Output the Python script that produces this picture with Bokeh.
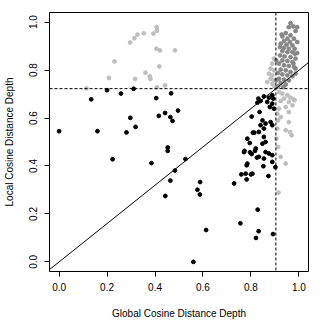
from bokeh.plotting import figure
from bokeh.models import Range1d, FixedTicker, PrintfTickFormatter, Span, Slope
from bokeh.embed import file_html
from bokeh.resources import INLINE

x_cut = 0.904
y_cut = 0.7225
ticks = [0.0, 0.2, 0.4, 0.6, 0.8, 1.0]

black_x = [0.000, 0.134, 0.160, 0.200, 0.258, 0.311, 0.405, 0.297, 0.281, 0.319, 0.416, 0.442,
           0.223, 0.385, 0.467, 0.496, 0.464, 0.473, 0.453, 0.453, 0.527, 0.483, 0.464, 0.588,
           0.443, 0.577, 0.587, 0.730, 0.760, 0.782, 0.800, 0.852, 0.873, 0.902, 0.828, 0.756,
           0.613, 0.832, 0.821, 0.892, 0.560, 0.782, 0.773, 0.796, 0.803, 0.825, 0.817, 0.785,
           0.795, 0.808, 0.814, 0.803, 0.836, 0.831, 0.854, 0.875, 0.889, 0.893, 0.840, 0.868,
           0.889, 0.879, 0.896, 0.848, 0.861, 0.840, 0.854, 0.882, 0.889, 0.833, 0.854, 0.861,
           0.848, 0.820, 0.861, 0.875, 0.833, 0.854, 0.889, 0.785, 0.889, 0.771, 0.806, 0.778,
           0.827]
black_y = [0.545, 0.678, 0.545, 0.716, 0.702, 0.722, 0.683, 0.601, 0.540, 0.563, 0.609, 0.621,
           0.428, 0.412, 0.703, 0.631, 0.604, 0.588, 0.477, 0.463, 0.429, 0.381, 0.339, 0.333,
           0.275, 0.301, 0.281, 0.327, 0.365, 0.344, 0.365, 0.399, 0.358, 0.395, 0.218, 0.161,
           0.133, 0.128, 0.100, 0.116, 0.000, 0.403, 0.463, 0.457, 0.450, 0.435, 0.463, 0.514,
           0.496, 0.539, 0.539, 0.606, 0.625, 0.681, 0.690, 0.685, 0.695, 0.681, 0.671, 0.667,
           0.660, 0.646, 0.639, 0.590, 0.577, 0.570, 0.556, 0.583, 0.570, 0.542, 0.521, 0.500,
           0.493, 0.473, 0.458, 0.452, 0.438, 0.431, 0.445, 0.410, 0.417, 0.458, 0.368, 0.368,
           0.664]

light_x = [0.114, 0.208, 0.231, 0.296, 0.314, 0.327, 0.353, 0.393, 0.407, 0.408, 0.406, 0.421,
           0.483, 0.418, 0.360, 0.378, 0.381, 0.317, 0.408, 0.442,
           0.896, 0.889, 0.882, 0.896, 0.875, 0.889, 0.882, 0.896, 0.868, 0.889, 0.898,
           0.917, 0.931, 0.952, 0.965, 0.979, 0.938, 0.958, 0.924, 0.973, 0.945, 0.917, 0.910,
           0.924, 0.958, 0.913, 0.958, 0.910, 0.945, 0.963, 0.970, 0.906, 0.913, 0.924, 0.945,
           0.915, 0.982]
light_y = [0.724, 0.767, 0.836, 0.915, 0.933, 0.948, 0.953, 0.952, 0.979, 0.964, 0.889, 0.882,
           0.882, 0.815, 0.789, 0.774, 0.763, 0.763, 0.728, 0.736,
           0.848, 0.827, 0.806, 0.799, 0.785, 0.778, 0.764, 0.757, 0.750, 0.743, 0.732,
           0.708, 0.702, 0.695, 0.685, 0.677, 0.681, 0.667, 0.671, 0.653, 0.646, 0.639, 0.618,
           0.604, 0.625, 0.590, 0.583, 0.556, 0.549, 0.542, 0.528, 0.514, 0.479, 0.438, 0.410,
           0.289, 0.674]

dark_x = [0.965, 0.977, 0.958, 0.986, 0.945, 0.965, 0.931, 0.952, 0.979, 0.938, 0.963, 0.993,
          0.924, 0.949, 0.973, 0.938, 0.958, 0.982, 0.931, 0.952, 0.973, 0.993, 0.921, 0.940,
          0.965, 0.986, 0.931, 0.952, 0.973, 0.917, 0.938, 0.958, 0.979, 0.924, 0.945, 0.965,
          0.913, 0.931, 0.952, 0.973, 0.917, 0.938, 0.958, 0.924, 0.945, 0.913, 0.935, 0.986,
          0.986, 0.906, 0.993, 0.928, 0.921, 0.983, 0.906, 0.977]
dark_y = [0.996, 0.982, 0.979, 0.963, 0.954, 0.945, 0.940, 0.931, 0.931, 0.921, 0.917, 0.917,
          0.910, 0.906, 0.903, 0.893, 0.889, 0.889, 0.879, 0.875, 0.875, 0.871, 0.861, 0.857,
          0.854, 0.848, 0.840, 0.838, 0.833, 0.827, 0.820, 0.817, 0.813, 0.802, 0.799, 0.792,
          0.788, 0.782, 0.778, 0.774, 0.764, 0.760, 0.757, 0.746, 0.740, 0.732, 0.729, 0.806,
          0.785, 0.757, 0.979, 0.948, 0.896, 0.868, 0.840, 0.827]

FONT = "Liberation Sans"

p = figure(width=332, height=332, output_backend="svg", toolbar_location=None,
           x_range=Range1d(-0.04, 1.04), y_range=Range1d(-0.04, 1.04),
           min_border_left=48, min_border_right=24, min_border_top=12, min_border_bottom=61)
p.grid.visible = False
p.outline_line_color = "black"
p.outline_line_width = 1
p.background_fill_color = "white"
p.border_fill_color = "white"

p.xaxis.axis_label = "Global Cosine Distance Depth"
p.yaxis.axis_label = "Local Cosine Distance Depth"
for ax in (p.xaxis[0], p.yaxis[0]):
    ax.ticker = FixedTicker(ticks=ticks)
    ax.formatter = PrintfTickFormatter(format="%.1f")
    ax.axis_line_color = None
    ax.major_tick_in = 0
    ax.major_tick_out = 5
    ax.major_tick_line_color = "black"
    ax.minor_tick_line_color = None
    ax.major_label_text_font = FONT
    ax.major_label_text_font_size = "10px"
    ax.major_label_text_color = "black"
    ax.axis_label_text_font = FONT
    ax.axis_label_text_font_size = "10px"
    ax.axis_label_text_font_style = "normal"
    ax.axis_label_text_color = "black"
p.yaxis.major_label_orientation = "vertical"
p.xaxis.major_label_standoff = 6
p.xaxis.axis_label_standoff = 14
p.yaxis.major_label_standoff = 7
p.yaxis.axis_label_standoff = 12

p.scatter(light_x, light_y, size=3.8, color="#BEBEBE")
p.scatter(dark_x, dark_y, size=3.8, color="#878787")
p.scatter(black_x, black_y, size=3.8, color="black")

p.add_layout(Span(location=y_cut, dimension="width", line_color="black", line_dash="3 2", line_width=1))
p.add_layout(Span(location=x_cut, dimension="height", line_color="black", line_dash="3 2", line_width=1))
p.add_layout(Slope(gradient=y_cut / x_cut, y_intercept=0, line_color="black", line_width=1))

open("out.html", "w").write(file_html(p, INLINE))
